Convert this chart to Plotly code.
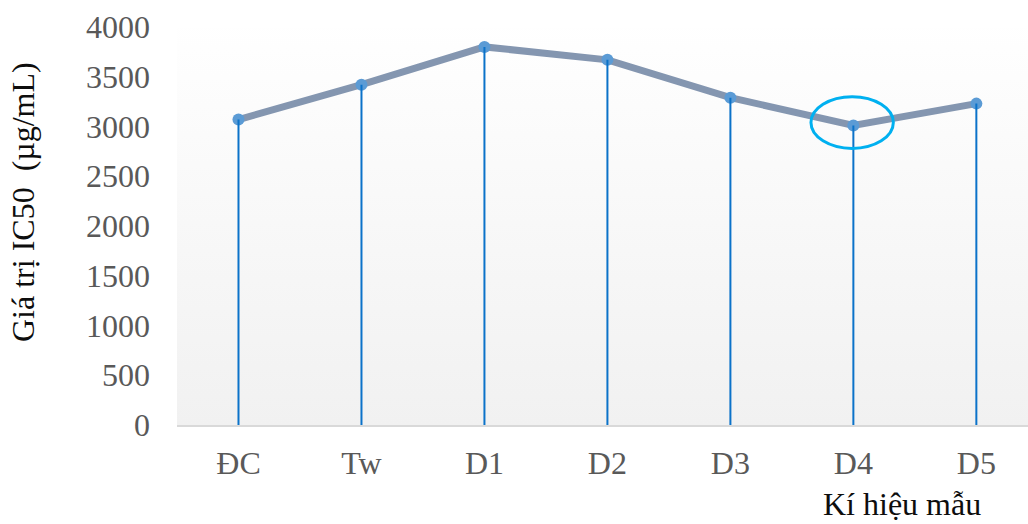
import plotly.graph_objects as go

# Sample codes and their IC50 values (µg/mL)
samples = ["ĐC", "Tw", "D1", "D2", "D3", "D4", "D5"]
ic50 = [3070, 3420, 3800, 3670, 3290, 3010, 3230]
y_ticks = [0, 500, 1000, 1500, 2000, 2500, 3000, 3500, 4000]

x_idx = list(range(len(samples)))
x_lo, x_hi = -0.5, 6.42
y_lo, y_hi = 0, 4000

fig = go.Figure()

# Plot area background: soft vertical gradient, white on top, light grey at the bottom
fig.add_trace(go.Scatter(
    x=[x_lo, x_hi, x_hi, x_lo, x_lo], y=[y_lo, y_lo, y_hi * 1.02, y_hi * 1.02, y_lo],
    mode="lines", line=dict(width=0), fill="toself",
    fillgradient=dict(type="vertical", colorscale=[[0, "#f1f1f1"], [1, "#ffffff"]]),
    hoverinfo="skip", showlegend=False,
))

# Main IC50 line
fig.add_trace(go.Scatter(
    x=x_idx, y=ic50, mode="lines+markers",
    line=dict(color="#8496b0", width=7),
    marker=dict(color="#5b9bd5", size=12),
    showlegend=False,
))

# Drop lines from each point down to the axis
dx, dy = [], []
for i, v in zip(x_idx, ic50):
    dx += [i, i, None]
    dy += [0, v, None]
fig.add_trace(go.Scatter(
    x=dx, y=dy, mode="lines", line=dict(color="#0b72c9", width=2),
    hoverinfo="skip", showlegend=False,
))

# Highlight the minimum (D4)
d4 = samples.index("D4")
fig.add_shape(
    type="circle", xref="x", yref="y",
    x0=d4 - 0.345, x1=d4 + 0.325,
    y0=ic50[d4] - 230, y1=ic50[d4] + 290,
    line=dict(color="#00b0f0", width=3),
)

fig.update_layout(
    width=1028, height=524,
    margin=dict(l=177, r=0, t=27, b=99),
    paper_bgcolor="white", plot_bgcolor="white",
    font=dict(family="Liberation Serif", size=32, color="#595959"),
    xaxis=dict(
        range=[x_lo, x_hi], tickmode="array", tickvals=x_idx, ticktext=samples,
        showgrid=False, zeroline=False, showline=True, linecolor="#d9d9d9", linewidth=2,
        ticks="", ticklabelstandoff=9,
    ),
    yaxis=dict(
        range=[y_lo, y_hi], tickmode="array", tickvals=y_ticks,
        showgrid=False, zeroline=False, showline=False, ticks="",
        ticklabelstandoff=26,
    ),
    annotations=[
        dict(text="Giá trị IC50  (µg/mL)", xref="paper", yref="paper",
             x=(23 - 177) / 851, y=(425 - 202) / 398, xanchor="center", yanchor="middle",
             textangle=-90, showarrow=False, font=dict(size=32, color="#0d0d0d")),
        dict(text="Kí hiệu mẫu", xref="paper", yref="paper",
             x=(902 - 177) / 851, y=-99 / 398, xanchor="center", yanchor="bottom",
             showarrow=False, font=dict(size=32, color="#0d0d0d")),
    ],
)

fig.write_html("out.html")
